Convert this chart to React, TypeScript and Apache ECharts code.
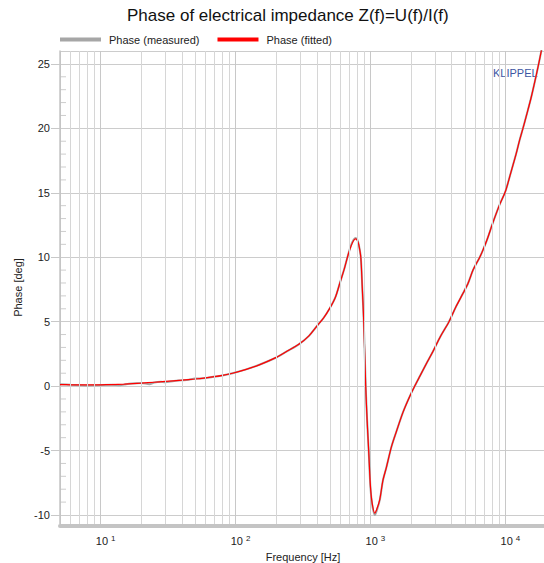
import React, { useEffect, useRef } from "react";
import * as echarts from "echarts";

// Frequency [Hz] and phase [deg]
const fittedFreq = [5, 6, 7, 8, 10, 12, 15, 20, 25, 30, 40, 50, 60, 70, 80, 95, 120, 150, 195, 240, 296, 350, 398, 450, 500, 550, 593, 640, 683, 720, 750, 778, 800, 820, 848, 870, 892, 922, 945, 970, 1000, 1030, 1076, 1110, 1172, 1238, 1313, 1431, 1559, 1747, 1954, 2128, 2317, 2600, 2910, 3300, 3819, 4300, 4853, 5300, 5756, 6457, 6829, 7309, 8094, 9078, 10000, 11000, 12000, 12760, 13500, 14500, 15590, 17000, 17950, 18700];
const fittedPhase = [0.12, 0.1, 0.09, 0.09, 0.1, 0.12, 0.16, 0.23, 0.3, 0.36, 0.46, 0.55, 0.64, 0.73, 0.83, 1.0, 1.3, 1.65, 2.17, 2.7, 3.26, 3.9, 4.62, 5.3, 6.05, 6.9, 7.99, 9.1, 10.19, 10.9, 11.3, 11.43, 11.3, 10.95, 10.0, 7.6, 5.0, 0.0, -2.7, -5.0, -7.8, -9.1, -9.85, -9.6, -8.8, -7.3, -6.3, -4.7, -3.5, -2.0, -0.8, 0.0, 0.75, 1.75, 2.7, 3.85, 5.0, 6.15, 7.2, 8.0, 9.0, 10.0, 10.57, 11.35, 12.7, 14.1, 15.1, 16.6, 18.0, 19.1, 20.0, 21.2, 22.47, 24.2, 25.37, 26.3];

const measuredFreq = [5, 6, 7, 8, 9, 10, 12, 14, 15, 17, 20, 23, 25, 28, 30, 35, 40, 45, 50, 60, 70, 80, 95, 120, 150, 195, 240, 296, 350, 398, 450, 500, 550, 593, 640, 683, 720, 750, 778, 800, 820, 848, 870, 892, 922, 945, 970, 1000, 1030, 1076, 1110, 1172, 1238, 1313, 1431, 1559, 1747, 1954, 2128, 2317, 2600, 2910, 3300, 3819, 4300, 4853, 5300, 5756, 6457, 6829, 7309, 8094, 9078, 10000, 11000, 12000, 12760, 13500, 14500, 15590, 17000, 17950, 18700];
const measuredPhase = [0.14, 0.1, 0.07, 0.05, 0.06, 0.08, 0.1, 0.06, 0.12, 0.2, 0.24, 0.15, 0.28, 0.33, 0.3, 0.4, 0.45, 0.5, 0.58, 0.62, 0.74, 0.82, 1.0, 1.3, 1.66, 2.16, 2.7, 3.26, 3.9, 4.62, 5.3, 6.05, 6.9, 7.99, 9.1, 10.19, 10.95, 11.35, 11.5, 11.35, 10.95, 10.0, 7.6, 5.0, 0.0, -2.7, -5.0, -7.9, -9.2, -10.0, -9.7, -8.85, -7.3, -6.3, -4.7, -3.5, -2.0, -0.8, 0.0, 0.75, 1.75, 2.7, 3.85, 5.0, 6.15, 7.2, 8.0, 9.0, 10.0, 10.57, 11.35, 12.7, 14.1, 15.1, 16.6, 18.0, 19.1, 20.0, 21.2, 22.47, 24.2, 25.37, 26.3];

const minorFreqs = [6, 7, 8, 9, 20, 30, 40, 50, 60, 70, 80, 90, 200, 300, 400, 500, 600, 700, 800, 900, 2000, 3000, 4000, 5000, 6000, 7000, 8000, 9000];
const yMinorTicks = [-9, -8, -7, -6, -4, -3, -2, -1, 1, 2, 3, 4, 6, 7, 8, 9, 11, 12, 13, 14, 16, 17, 18, 19, 21, 22, 23, 24];

const FONT = "'Liberation Sans', Arial, sans-serif";

export default function App() {
  const ref = useRef<HTMLDivElement>(null);
  useEffect(() => {
    if (!ref.current) return;
    const chart = echarts.init(ref.current, undefined, { renderer: "svg" });
    const fitted = fittedFreq.map((f, i) => [f, fittedPhase[i]]);
    const measured = measuredFreq.map((f, i) => [f, measuredPhase[i]]);
    chart.setOption({
      animation: false,
      textStyle: { fontFamily: FONT },
      title: {
        text: "Phase of electrical impedance Z(f)=U(f)/I(f)",
        left: 127,
        top: 7,
        padding: 0,
        textStyle: { fontSize: 17, fontWeight: "normal", color: "#111", fontFamily: FONT },
      },
      legend: {
        data: ["Phase (measured)", "Phase (fitted)"],
        left: 60,
        top: 34,
        padding: 0,
        icon: "rect",
        itemWidth: 41,
        itemHeight: 4,
        itemGap: 18,
        textStyle: { fontSize: 11, color: "#222", fontFamily: FONT, padding: [0, 0, 0, 3] },
      },
      grid: { left: 60, right: 1, top: 51, bottom: 39, containLabel: false, outerBoundsMode: "none" },
      xAxis: {
        type: "log",
        logBase: 10,
        min: 5,
        max: 20000,
        name: "Frequency [Hz]",
        nameLocation: "middle",
        nameGap: 19,
        nameTextStyle: { fontSize: 11, color: "#222", fontFamily: FONT },
        axisLine: { show: true, onZero: false, lineStyle: { color: "#c4c4c4", width: 4 } },
        offset: 2,
        axisTick: { show: false },
        axisLabel: {
          showMinLabel: false,
          showMaxLabel: false,
          margin: 8,
          color: "#222",
          fontSize: 11,
          fontFamily: FONT,
          formatter: (v: number) => {
            const e = Math.log10(v);
            if (Math.abs(e - Math.round(e)) > 1e-6) return "";
            return "{sp| }10{sup|" + Math.round(e) + "}";
          },
          rich: {
            sp: { width: 10, fontSize: 11, lineHeight: 14 },
            sup: { fontSize: 8, lineHeight: 9, verticalAlign: "top", padding: [0, 0, 0, 3], color: "#222", fontFamily: FONT },
          },
        },
        splitLine: { show: true, lineStyle: { color: "#c8c8c8", width: 1 } },
      },
      yAxis: {
        type: "value",
        min: -10.7,
        max: 26,
        splitNumber: 7,
        name: "Phase [deg]",
        nameLocation: "middle",
        nameGap: 32,
        nameTextStyle: { fontSize: 11, color: "#222", fontFamily: FONT },
        axisLine: { show: true, lineStyle: { color: "#c4c4c4", width: 1.5 } },
        axisTick: { show: true, length: 9, lineStyle: { color: "#c8c8c8" } },
        axisLabel: {
          showMinLabel: false,
          showMaxLabel: false,
          margin: 10,
          color: "#222",
          fontSize: 11,
          fontFamily: FONT,
          formatter: (v: number) => (Math.abs(v % 5) < 1e-6 ? String(v) : ""),
        },
        splitLine: { show: true, lineStyle: { color: "#cccccc", width: 1 } },
      },
      graphic: [
        {
          type: "text",
          left: 493,
          top: 67,
          style: { text: "KLIPPEL", fill: "#3d55a3", font: "11px " + FONT },
        },
      ],
      series: [
        {
          name: "minor-grid",
          type: "line",
          data: [],
          z: 1,
          silent: true,
          markLine: {
            silent: true,
            symbol: ["none", "none"],
            label: { show: false },
            emphasis: { disabled: true },
            lineStyle: { color: "#d6d6d6", width: 1, type: "solid" },
            data: minorFreqs.map((f) => ({ xAxis: f })),
          },
        },
        {
          name: "minor-ticks",
          type: "scatter",
          data: yMinorTicks.map((v) => [5, v]),
          symbol: "rect",
          symbolSize: [6, 1],
          symbolOffset: [3, 0],
          itemStyle: { color: "#c0c0c0" },
          silent: true,
          z: 1,
        },
        {
          name: "Phase (measured)",
          type: "line",
          data: measured,
          showSymbol: false,
          smooth: 0.3,
          itemStyle: { color: "#a6a6a6" },
          lineStyle: { color: "#a6a6a6", width: 2 },
          z: 3,
        },
        {
          name: "Phase (fitted)",
          type: "line",
          data: fitted,
          showSymbol: false,
          smooth: 0.3,
          itemStyle: { color: "#ff0000" },
          lineStyle: { color: "#ff0000", width: 1.2 },
          z: 4,
        },
      ],
    });
    return () => chart.dispose();
  }, []);
  return (
    <div style={{ position: "absolute", left: 0, top: 0, width: 544, height: 563, overflow: "hidden", background: "#fff" }}>
      <div ref={ref} style={{ width: 547, height: 563 }} />
    </div>
  );
}
